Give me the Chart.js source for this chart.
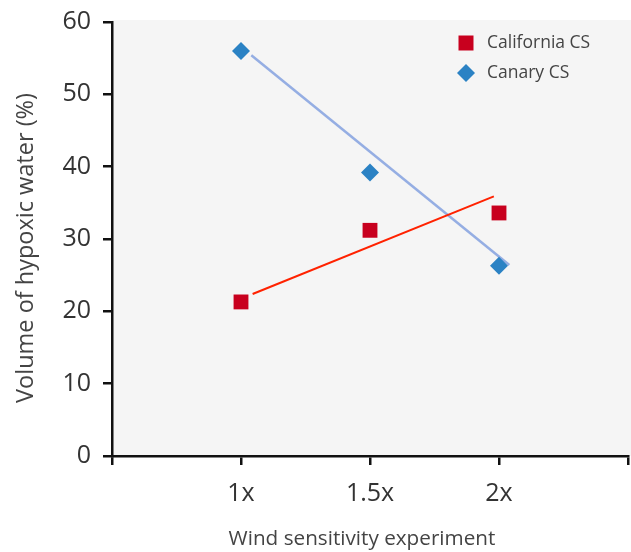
<!DOCTYPE html>
<html>
<head>
<meta charset="utf-8">
<script src="https://cdn.jsdelivr.net/npm/chart.js@4/dist/chart.umd.min.js"></script>
<style>
html,body{margin:0;padding:0;background:#fff;}
#wrap{width:631px;height:552px;position:relative;}
</style>
</head>
<body>
<div id="wrap"><canvas id="c" width="631" height="552"></canvas></div>
<script>
// ---- data ----
const categories = ['1x', '1.5x', '2x'];
const categoryPositions = [1, 2, 3];
const xTickLabels = ['', '1x', '1.5x', '2x', ''];
const californiaValues = [21.3, 31.2, 33.6];
const canaryValues = [56.0, 39.2, 26.3];
const californiaTrendX = [1.09, 2.96];
const californiaTrendY = [22.4, 35.9];
const canaryTrendX = [1.08, 3.08];
const canaryTrendY = [55.4, 26.4];
const seriesNames = ['California CS', 'Canary CS'];
const xTitle = 'Wind sensitivity experiment';
const yTitle = 'Volume of hypoxic water (%)';

const FONT = "'Open Sans', 'DejaVu Sans', sans-serif";
const toPts = (xs, ys) => xs.map((x, i) => ({x: x, y: ys[i]}));

const bgPlugin = {
  id: 'bg',
  beforeDraw(chart) {
    const {ctx, chartArea} = chart;
    ctx.save();
    ctx.fillStyle = '#f5f5f5';
    ctx.fillRect(chartArea.left, chartArea.top - 2, chart.width - chartArea.left, chartArea.bottom - chartArea.top + 2);
    ctx.restore();
  }
};

const textPlugin = {
  id: 'texts',
  afterDraw(chart) {
    const {ctx} = chart;
    const items = [
      {label: seriesNames[0], color: '#c8001e', shape: 'square', y: 43},
      {label: seriesNames[1], color: '#2b82c4', shape: 'diamond', y: 73}
    ];
    ctx.save();
    items.forEach(it => {
      ctx.fillStyle = it.color;
      const cx = 466, cy = it.y;
      ctx.beginPath();
      if (it.shape === 'square') {
        ctx.rect(cx - 7.5, cy - 7.5, 15, 15);
      } else {
        ctx.moveTo(cx - 9, cy); ctx.lineTo(cx, cy - 9); ctx.lineTo(cx + 9, cy); ctx.lineTo(cx, cy + 9); ctx.closePath();
      }
      ctx.fill();
      ctx.fillStyle = '#444';
      ctx.font = "17.5px " + FONT;
      ctx.textBaseline = 'middle';
      ctx.textAlign = 'left';
      ctx.fillText(it.label, 487, cy);
    });
    // axis titles
    ctx.fillStyle = '#444';
    ctx.textAlign = 'center';
    ctx.textBaseline = 'middle';
    ctx.font = "20.7px " + FONT;
    ctx.fillText(xTitle, 362, 539);
    ctx.translate(26, 248);
    ctx.rotate(-Math.PI / 2);
    ctx.font = "23.5px " + FONT;
    ctx.fillText(yTitle, 0, 0);
    ctx.restore();
  }
};

function zeroPad(s) { s.paddingLeft = 0; s.paddingRight = 0; s.paddingTop = 0; s.paddingBottom = 0; }

new Chart(document.getElementById('c'), {
  type: 'scatter',
  data: {
    datasets: [
      {
        label: seriesNames[1] + ' trend',
        data: toPts(canaryTrendX, canaryTrendY),
        showLine: true,
        borderColor: '#95aee3',
        borderWidth: 2.5,
        pointRadius: 0,
        order: 3
      },
      {
        label: seriesNames[0] + ' trend',
        data: toPts(californiaTrendX, californiaTrendY),
        showLine: true,
        borderColor: '#ff2200',
        borderWidth: 2,
        pointRadius: 0,
        order: 2
      },
      {
        label: seriesNames[0],
        data: toPts(categoryPositions, californiaValues),
        pointStyle: 'rect',
        pointRadius: 10.5,
        pointHoverRadius: 10.5,
        backgroundColor: '#c8001e',
        borderColor: '#c8001e',
        borderWidth: 0,
        order: 1
      },
      {
        label: seriesNames[1],
        data: toPts(categoryPositions, canaryValues),
        pointStyle: 'rectRot',
        pointRadius: 9,
        pointHoverRadius: 9,
        backgroundColor: '#2b82c4',
        borderColor: '#2b82c4',
        borderWidth: 0,
        order: 0
      }
    ]
  },
  options: {
    responsive: false,
    animation: false,
    layout: {autoPadding: false, padding: {top: 22, right: 3, left: 0, bottom: 0}},
    plugins: {legend: {display: false}, tooltip: {enabled: false}},
    scales: {
      x: {
        type: 'linear',
        min: 0, max: 4,
        afterFit(s) { s.height = 96; zeroPad(s); },
        ticks: {
          stepSize: 1,
          autoSkip: false,
          maxRotation: 0,
          padding: 14,
          color: '#333',
          font: {family: FONT, size: 25},
          callback: (v) => xTickLabels[v] !== undefined ? xTickLabels[v] : ''
        },
        grid: {drawOnChartArea: false, drawTicks: true, tickLength: 9, color: '#111', lineWidth: 2.5},
        border: {display: true, color: '#111', width: 2.5},
        title: {display: false}
      },
      y: {
        min: 0, max: 60,
        afterFit(s) { s.width = 112; zeroPad(s); },
        ticks: {
          stepSize: 10,
          padding: 12,
          color: '#333',
          font: {family: FONT, size: 25}
        },
        grid: {drawOnChartArea: false, drawTicks: true, tickLength: 9, color: '#111', lineWidth: 2.5},
        border: {display: true, color: '#111', width: 2.5},
        title: {display: false}
      }
    }
  },
  plugins: [bgPlugin, textPlugin]
});
</script>
</body>
</html>
